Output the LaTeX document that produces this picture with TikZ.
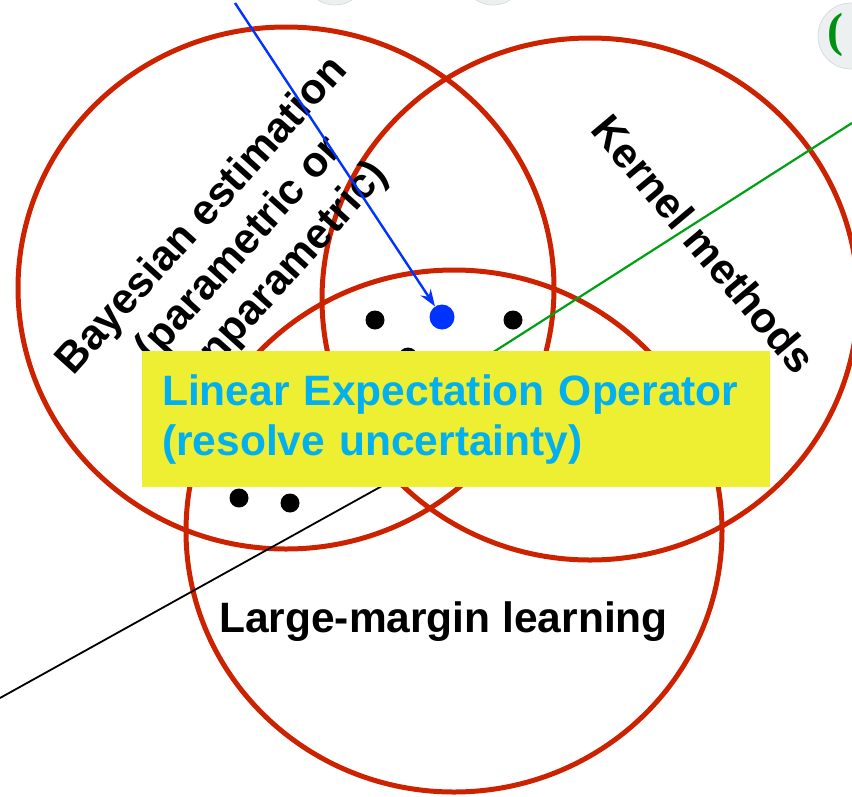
\documentclass[tikz,border=0pt]{standalone}
\usepackage{fontspec}
\setmainfont{Liberation Sans}
\newfontfamily\parenfont{Liberation Serif}
\usetikzlibrary{shapes.geometric,arrows.meta}
\definecolor{ringred}{RGB}{204,34,0}
\definecolor{notefill}{RGB}{238,238,50}
\definecolor{notetext}{RGB}{0,176,240}
\definecolor{pointblue}{RGB}{0,51,255}
\definecolor{linegreen}{RGB}{0,160,20}
\definecolor{knobfill}{RGB}{237,240,240}
\definecolor{knobedge}{RGB}{218,221,221}
\begin{document}
\begin{tikzpicture}[x=1pt,y=-1pt,
  ring/.style={draw=ringred, line width=5pt, ellipse, inner sep=0pt,
    minimum width=536pt, minimum height=522pt},
  fieldtext/.style={font=\fontsize{42.5}{50}\selectfont\bfseries, align=center, inner sep=0pt},
  dot/.style={circle, fill=black, inner sep=0pt, minimum size=19pt},
  knob/.style={circle, fill=knobfill, draw=knobedge, line width=0.8pt, inner sep=0pt, minimum size=62pt}]
\clip (0,0) rectangle (852,796);
% buttons cut off at the top
\node[knob] (knobA) at (335,-26) {};
\node[knob] (knobB) at (493,-26) {};
\node[knob, minimum size=66pt] (knobC) at (851,36) {};
\node[font=\parenfont\bfseries\fontsize{48}{48}\selectfont, text=linegreen!90!black, inner sep=0pt] (paren) at (835,35) {(};
% the three fields
\node[ring] (bayes) at (286,288) {};
\node[ring] (kernel) at (590,299) {};
\node[ring] (margin) at (454,531) {};
\node[fieldtext, rotate=48] (bayestext) at (240,250) {Bayesian estimation\\(parametric or\\nonparametric)};
\node[fieldtext, rotate=-50] (kerneltext) at (704,244) {Kernel methods};
\node[fieldtext, anchor=base] (margintext) at (443.5,632) {Large-margin learning};
% points
\node[dot] (p1) at (375,320) {};
\node[dot] (p2) at (513,320) {};
\node[dot] (p3) at (408,357) {};
\node[dot] (p4) at (239,498) {};
\node[dot] (p5) at (290,503) {};
\node[dot, fill=pointblue, minimum size=25pt] (target) at (442,317) {};
% lines
\coordinate (greenfrom) at (852,123);
\coordinate (greento) at (470,367);
\coordinate (blackfrom) at (0,698);
\coordinate (blackto) at (400,476);
\draw[linegreen, line width=2.2pt] (greenfrom) -- (greento);
\draw[black, line width=1.8pt] (blackfrom) -- (blackto);
\node[fill=notefill, anchor=north west, minimum width=628pt, minimum height=136pt,
  text width=588pt, inner xsep=20pt, inner ysep=0pt, align=left, text=notetext,
  font=\fontsize{42.5}{50}\selectfont\bfseries] (expect) at (142,351)
  {Linear Expectation Operator\\(resolve uncertainty)};
\coordinate (bluefrom) at (235,3);
\draw[pointblue, line width=2.4pt, -{Stealth[length=17pt,width=12pt]}] (bluefrom) -- (target);
\end{tikzpicture}
\end{document}
